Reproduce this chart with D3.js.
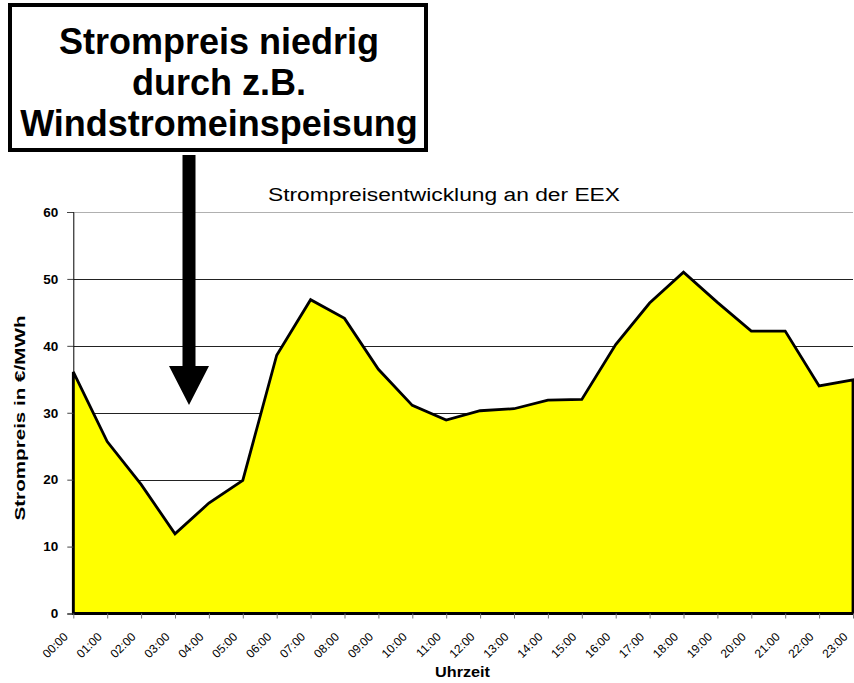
<!DOCTYPE html>
<meta charset="utf-8">
<style>
  body { margin: 0; background: #fff; }
  svg { display: block; font-family: Arial, "Liberation Sans", sans-serif; }
</style>
<svg width="854" height="683"></svg>
<script src="https://cdn.jsdelivr.net/npm/d3@7"></script>
<script>

var hours = ["00:00", "01:00", "02:00", "03:00", "04:00", "05:00", "06:00", "07:00",
             "08:00", "09:00", "10:00", "11:00", "12:00", "13:00", "14:00", "15:00",
             "16:00", "17:00", "18:00", "19:00", "20:00", "21:00", "22:00", "23:00"];

var prices = [36.1, 25.7, 19.3, 11.9, 16.5, 19.9, 38.6, 46.9, 44.1, 36.5, 31.1, 28.9,
              30.3, 30.6, 31.9, 32.0, 40.2, 46.4, 51.0, 46.5, 42.2, 42.2, 34.0, 34.9];

var yTicks = [0, 10, 20, 30, 40, 50, 60];

var calloutLines = ["Strompreis niedrig", "durch z.B.", "Windstromeinspeisung"];

var svg = d3.select("svg");

var plotLeft = 73.3, plotRight = 853, plotTop = 212, plotBottom = 613.5;

var x = d3.scalePoint().domain(hours).range([plotLeft, plotRight]);
var y = d3.scaleLinear().domain([0, 60]).range([plotBottom, plotTop]);

// gridlines (top one is the grey plot border)
svg.append("g")
  .selectAll("line")
  .data(yTicks.filter(function(d) { return d > 0; }))
  .join("line")
    .attr("x1", plotLeft).attr("x2", plotRight)
    .attr("y1", function(d) { return Math.round(y(d)) + 0.5; })
    .attr("y2", function(d) { return Math.round(y(d)) + 0.5; })
    .attr("stroke", function(d) { return d === 60 ? "#b0b0b0" : "#222"; })
    .attr("stroke-width", 1);

// area
var area = d3.area()
  .x(function(d, i) { return x(hours[i]); })
  .y0(y(0))
  .y1(function(d) { return y(d); });

svg.append("path")
  .datum(prices)
  .attr("d", area)
  .attr("fill", "#ffff00")
  .attr("stroke", "#000")
  .attr("stroke-width", 2.8)
  .attr("stroke-linejoin", "miter");

// y axis
var yAxis = svg.append("g")
  .attr("transform", "translate(" + plotLeft + ",0)")
  .call(d3.axisLeft(y).tickValues(yTicks).tickSize(6).tickPadding(9));
yAxis.select(".domain").attr("stroke", "#000");
yAxis.selectAll(".tick line").attr("stroke", "#444");
yAxis.selectAll("text")
  .attr("font-size", 13.5).attr("font-weight", "bold")
  .attr("font-family", "Arial, 'Liberation Sans', sans-serif")
  .attr("fill", "#000");

// x axis
var xAxis = svg.append("g")
  .attr("transform", "translate(0," + plotBottom + ")")
  .call(d3.axisBottom(x).tickSize(5).tickSizeOuter(0));
xAxis.select(".domain").attr("stroke", "#000").attr("stroke-width", 1.5);
xAxis.selectAll(".tick line").attr("stroke", "#777");
xAxis.selectAll("text")
  .attr("font-size", 12)
  .attr("font-family", "Arial, 'Liberation Sans', sans-serif")
  .attr("fill", "#000")
  .attr("text-anchor", "end")
  .attr("x", 0).attr("y", 0).attr("dy", "0.35em")
  .attr("transform", "translate(-8,21) rotate(-45)");

// titles
svg.append("text")
  .attr("x", 444).attr("y", 201)
  .attr("text-anchor", "middle")
  .attr("font-size", 18)
  .attr("textLength", 352).attr("lengthAdjust", "spacingAndGlyphs")
  .text("Strompreisentwicklung an der EEX");

svg.append("text")
  .attr("x", 462.5).attr("y", 677)
  .attr("text-anchor", "middle")
  .attr("font-size", 15).attr("font-weight", "bold")
  .attr("textLength", 55).attr("lengthAdjust", "spacingAndGlyphs")
  .text("Uhrzeit");

svg.append("text")
  .attr("transform", "translate(25,418) rotate(-90)")
  .attr("text-anchor", "middle")
  .attr("font-size", 15.5).attr("font-weight", "bold")
  .attr("textLength", 205).attr("lengthAdjust", "spacingAndGlyphs")
  .text("Strompreis in €/MWh");

// callout box
svg.append("rect")
  .attr("x", 10).attr("y", 5)
  .attr("width", 416).attr("height", 145)
  .attr("fill", "#fff")
  .attr("stroke", "#000")
  .attr("stroke-width", 4);

svg.append("g")
  .selectAll("text")
  .data(calloutLines)
  .join("text")
    .attr("x", 219)
    .attr("y", function(d, i) { return 54 + i * 41; })
    .attr("text-anchor", "middle")
    .attr("font-size", 36).attr("font-weight", "bold")
    .text(function(d) { return d; });

// arrow pointing at the 03:00 low
var ax = x("03:00") + 14;
svg.append("path")
  .attr("d", "M" + (ax - 6.5) + ",155 L" + (ax + 6.5) + ",155 L" + (ax + 6.5) + ",366 L" + (ax + 20) + ",366 L" +
             ax + ",405 L" + (ax - 20) + ",366 L" + (ax - 6.5) + ",366 Z")
  .attr("fill", "#000");

</script>
